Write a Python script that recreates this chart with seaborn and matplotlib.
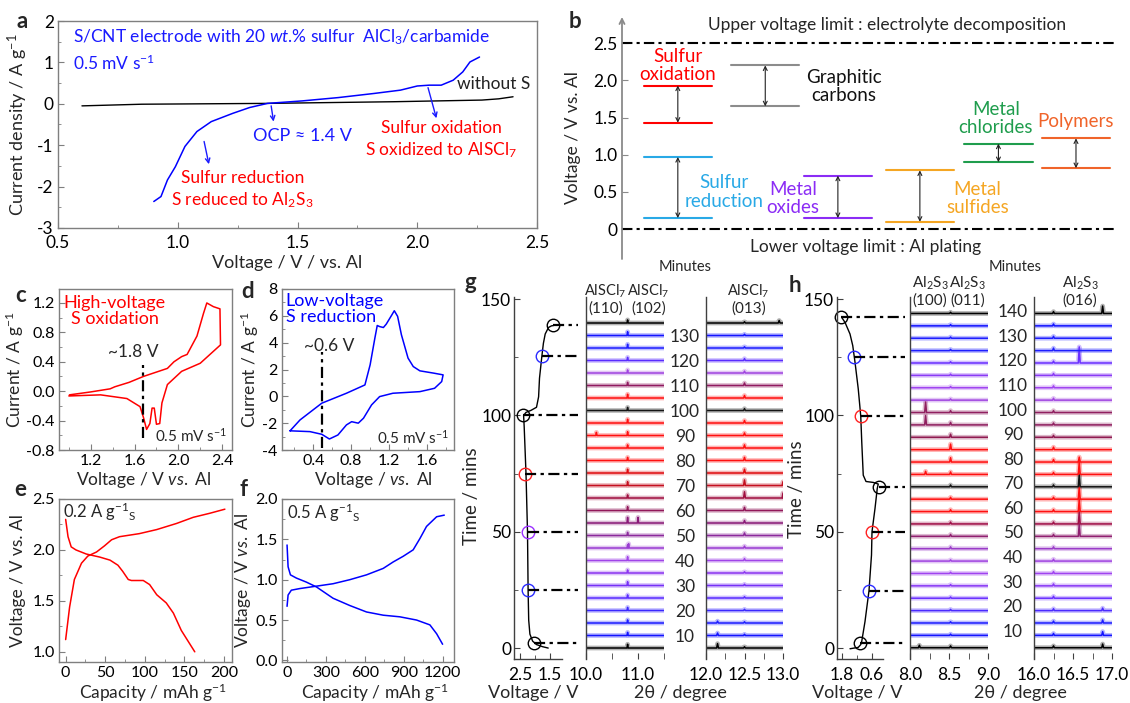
import numpy as np
import pandas as pd
import matplotlib
matplotlib.use("Agg")
import matplotlib.pyplot as plt
import seaborn as sns
from matplotlib.ticker import MultipleLocator, FixedLocator
from matplotlib.transforms import blended_transform_factory

sns.set_style("ticks")
plt.rcParams["font.family"] = ["Lato", "DejaVu Sans"]
plt.rcParams["mathtext.fontset"] = "custom"
plt.rcParams["mathtext.rm"] = "Lato"
plt.rcParams["mathtext.it"] = "Lato:italic"
plt.rcParams["mathtext.bf"] = "Lato:bold"
plt.rcParams["axes.unicode_minus"] = False

# ---------------- data ----------------
# panel a : linear sweep
a_blank_v = [0.60, 0.85, 1.375, 1.90, 2.27, 2.34, 2.40]
a_blank_i = [-0.05, -0.01, 0.01, 0.05, 0.09, 0.12, 0.17]
a_s_v = [0.90, 0.93, 0.957, 0.99, 1.03, 1.08, 1.14, 1.23, 1.30, 1.375, 1.52, 1.67,
         1.82, 1.93, 2.00, 2.05, 2.10, 2.15, 2.19, 2.22, 2.26]
a_s_i = [-2.36, -2.24, -1.84, -1.52, -1.03, -0.67, -0.43, -0.23, -0.09, 0.01, 0.07, 0.15,
         0.25, 0.33, 0.43, 0.45, 0.45, 0.57, 0.77, 1.01, 1.13]

# panel b : voltage windows
b_names = ["Sulfur\noxidation", "Graphitic\ncarbons", "Sulfur\nreduction", "Metal\noxides",
           "Metal\nsulfides", "Metal\nchlorides", "Polymers"]
b_upper = [1.93, 2.20, 0.97, 0.72, 0.79, 1.15, 1.22]
b_lower = [1.43, 1.65, 0.15, 0.15, 0.10, 0.90, 0.82]
b_text_v = [2.20, 1.92, 0.50, 0.41, 0.41, 1.49, 1.45]
b_limits = [2.5, 0.0]

# panel c : high-voltage CV
c_v = [1.005, 1.20, 1.377, 1.42, 1.55, 1.68, 1.90, 1.96, 2.03, 2.08, 2.17, 2.23, 2.26, 2.32,
       2.38, 2.385, 2.20, 2.03, 1.90, 1.85, 1.83, 1.80, 1.78, 1.76, 1.74, 1.71, 1.68, 1.65,
       1.53, 1.29, 1.00]
c_i = [-0.05, -0.01, 0.032, 0.06, 0.12, 0.20, 0.31, 0.40, 0.47, 0.50, 0.75, 1.06, 1.20, 1.15,
       1.12, 0.63, 0.38, 0.27, 0.09, -0.16, -0.44, -0.45, -0.23, -0.23, -0.44, -0.52, -0.35,
       -0.21, -0.10, -0.05, -0.065]
c_mark_v = 1.68

# panel d : low-voltage CV
d_v = [0.155, 0.26, 0.49, 0.75, 0.945, 1.00, 1.05, 1.075, 1.10, 1.14, 1.17, 1.23, 1.255, 1.29,
       1.33, 1.40, 1.455, 1.525, 1.67, 1.77, 1.755, 1.68, 1.525, 1.24, 1.10, 1.015, 0.93,
       0.875, 0.805, 0.75, 0.66, 0.57, 0.49, 0.365, 0.155]
d_i = [-2.57, -1.76, -0.51, 0.23, 0.85, 2.35, 4.34, 5.28, 5.20, 5.13, 5.38, 6.08, 6.38, 5.96,
       4.59, 2.85, 2.22, 1.90, 1.73, 1.60, 1.10, 0.60, 0.35, 0.23, -0.02, -0.64, -1.63,
       -2.00, -1.89, -2.13, -2.88, -3.18, -2.83, -2.63, -2.57]
d_mark_v = 0.49

# panel e : 0.2 A/g charge-discharge
e_chg_cap = [0, 5, 11, 20, 28, 39, 49, 58, 68, 93, 115, 140, 161, 182, 201]
e_chg_v = [1.12, 1.44, 1.71, 1.87, 1.94, 1.98, 2.04, 2.10, 2.13, 2.16, 2.20, 2.26, 2.32, 2.36, 2.40]
e_dis_cap = [0, 3, 7, 13, 26, 43, 56, 66, 72, 79, 83, 98, 106, 115, 127, 136, 146, 163]
e_dis_v = [2.30, 2.13, 2.03, 2.00, 1.96, 1.93, 1.90, 1.85, 1.79, 1.71, 1.70, 1.70, 1.66, 1.56,
           1.48, 1.38, 1.21, 1.00]

# panel f : 0.5 A/g charge-discharge
f_chg_cap = [0, 8, 33, 98, 227, 355, 484, 613, 742, 819, 896, 973, 1025, 1076, 1154, 1213]
f_chg_v = [0.67, 0.81, 0.87, 0.89, 0.92, 0.95, 1.00, 1.06, 1.14, 1.22, 1.29, 1.37, 1.51, 1.66,
           1.78, 1.80]
f_dis_cap = [0, 8, 26, 72, 149, 227, 355, 484, 613, 742, 870, 999, 1102, 1154, 1200]
f_dis_v = [1.43, 1.16, 1.06, 1.02, 0.97, 0.91, 0.77, 0.68, 0.60, 0.56, 0.54, 0.50, 0.44, 0.33, 0.20]

# panel g : operando voltage profile + XRD
g_volt = [1.56, 1.75, 1.95, 2.08, 2.17, 2.21, 2.23, 2.25, 2.30, 2.36, 2.38, 2.30, 2.13, 1.95,
          1.88, 1.85, 1.80, 1.77, 1.72, 1.66, 1.55, 1.45, 1.39]
g_time = [0.0, 0.6, 1.5, 3.0, 6.0, 12, 25, 50, 75, 95, 100, 101.3, 102.2, 103.5, 108, 116, 122,
          125.6, 131, 135, 137.8, 138.5, 138.6]
g_mark_v = [2.03, 2.24, 2.24, 2.33, 2.39, 1.77, 1.39]
g_mark_t = [2.0, 25, 50, 75, 100, 125.6, 138.8]
g_mark_c = ["black", "#2a2aff", "#9b30ff", "#ff2020", "black", "#2a2aff", "black"]
g_labels = [10, 20, 30, 40, 50, 60, 70, 80, 90, 100, 110, 120, 130]
g_colors = ["#000000", "#1414ff", "#1e1eff", "#3a28ff", "#5a2cff", "#7630f6", "#8c36f0",
            "#a044e8", "#9a3cd2", "#8c2a9c", "#8a1a78", "#92185a", "#a01040", "#c41020",
            "#e00c10", "#ff1010", "#ff1010", "#ff1010", "#ff1010", "#141414", "#ff1010",
            "#901a60", "#a044e0", "#5a2cff", "#1e1eff", "#1414ff", "#000000"]
g1_common_pos = 10.80
g1_common_h = [0.30, 0.25, 0.25, 0.25, 0.25, 0.30, 0.25, 0.30, 0.25, 0.25, 0.45, 0.30, 0.25,
               0.30, 0.30, 0.25, 0.25, 0.30, 0.30, 0.25, 0.30, 0.25, 0.25, 0.25, 0.30, 0.30, 0.25]
g1_extra = [(10, 11.00, 0.45), (17, 10.20, 0.25), (8, 10.82, 0.35)]
g2_common_pos = 12.50
g2_common_h = [0.10, 0.10, 0.10, 0.10, 0.10, 0.10, 0.10, 0.15, 0.15, 0.20, 0.20, 0.25, 0.50,
               0.45, 0.30, 0.25, 0.25, 0.20, 0.20, 0.15, 0.20, 0.20, 0.15, 0.15, 0.10, 0.10, 0.10]
g2_extra = [(0, 12.15, 0.35), (1, 12.15, 0.20), (2, 12.15, 0.15), (12, 13.00, 0.40),
            (13, 13.00, 0.30), (26, 12.95, 0.20)]

# panel h : operando voltage profile + XRD
h_volt = [1.48, 1.15, 1.05, 1.01, 0.88, 0.72, 0.62, 0.60, 0.48, 0.39, 0.35, 0.55, 0.84, 0.95,
          1.01, 1.05, 1.15, 1.28, 1.37, 1.48, 1.68, 1.81]
h_time = [-0.3, 0.3, 1.5, 2.9, 11.4, 24.7, 40, 50, 60, 68.6, 70.5, 71.2, 71.6, 74.3, 88.6, 99.7,
          111.4, 122.9, 130, 135, 140, 142.1]
h_mark_v = [1.08, 0.72, 0.61, 0.31, 1.05, 1.31, 1.83]
h_mark_t = [2.1, 24.7, 50, 69.3, 99.7, 125, 142.1]
h_mark_c = ["black", "#2a2aff", "#ff2020", "black", "#ff2020", "#2a2aff", "black"]
h_labels = [10, 20, 30, 40, 50, 60, 70, 80, 90, 100, 110, 120, 130, 140]
h_colors = ["#000000", "#1414ff", "#1e1eff", "#4a2aff", "#6a30ff", "#8a3af5", "#a044f0",
            "#a044e0", "#9a3cc8", "#902070", "#a01048", "#ff1010", "#ff1010", "#141414",
            "#ff1010", "#ff1010", "#ff1010", "#901a50", "#902060", "#902060", "#a044e0",
            "#a044f0", "#8a3af5", "#6a30ff", "#1e1eff", "#1e1eff", "#1414ff", "#000000"]
h1_common_pos = 8.52
h1_common_h = [0.15, 0.10, 0.10, 0.10, 0.10, 0.10, 0.10, 0.10, 0.15, 0.15, 0.15, 0.15, 0.15,
               0.15, 0.20, 0.35, 0.45, 0.25, 0.20, 0.15, 0.10, 0.10, 0.10, 0.10, 0.10, 0.10,
               0.10, 0.10]
h1_extra = [(18, 8.20, 0.75), (19, 8.20, 0.85), (14, 8.20, 0.25), (0, 8.12, 0.20)]
h2_common_pos = 16.25
h2_common_h = [0.15, 0.15, 0.15, 0.15, 0.15, 0.15, 0.15, 0.15, 0.15, 0.15, 0.15, 0.15, 0.15,
               0.15, 0.15, 0.20, 0.20, 0.15, 0.15, 0.15, 0.15, 0.15, 0.15, 0.15, 0.20, 0.15,
               0.15, 0.15]
h2_extra = [(9, 16.58, 1.0), (10, 16.58, 1.0), (11, 16.58, 1.0), (12, 16.58, 1.0),
            (13, 16.58, 1.0), (14, 16.58, 1.0), (15, 16.58, 0.4), (23, 16.58, 1.3),
            (27, 16.88, 0.6), (0, 16.88, 0.30), (1, 16.88, 0.30), (2, 16.88, 0.25),
            (3, 16.88, 0.20)]

# ---------------- figure ----------------
W, H = 1130, 703
fig = plt.figure(figsize=(W / 100, H / 100), dpi=100)


def px_rect(l, r, t, b):
    return [l / W, 1 - b / H, (r - l) / W, (b - t) / H]


def ftext(px, py, s, **kw):
    kw.setdefault("ha", "center")
    kw.setdefault("va", "center")
    return fig.text(px / W, 1 - py / H, s, **kw)


GRAY = "#7f7f7f"
DARK = "#404040"
BLUE = "#0000ff"
RED = "#ff0000"
DASHDOT = (0, (5, 2, 1.5, 2))


def frame(ax, color=GRAY, fs=12):
    for s in ax.spines.values():
        s.set_visible(True)
        s.set_color(color)
        s.set_linewidth(1.0)
    ax.tick_params(which="both", direction="in", colors=color, labelcolor="black",
                   labelsize=fs, top=False, right=False, pad=3)
    ax.tick_params(which="major", length=4)
    ax.tick_params(which="minor", length=2.5)


def curve(ax, x, y, color, lw=1.1, **kw):
    sns.lineplot(x=np.asarray(x, float), y=np.asarray(y, float), ax=ax, color=color, lw=lw,
                 sort=False, estimator=None, **kw)


# ---- panel a ----
ax_a = fig.add_axes(px_rect(58, 537, 21, 228))
curve(ax_a, a_blank_v, a_blank_i, "black", lw=1.0)
curve(ax_a, a_s_v, a_s_i, BLUE, lw=1.1)
ax_a.set_xlim(0.5, 2.5)
ax_a.set_ylim(-3, 2)
frame(ax_a, fs=12.5)
ax_a.tick_params(axis="x", pad=5)
ax_a.xaxis.set_major_locator(MultipleLocator(0.5))
ax_a.xaxis.set_minor_locator(MultipleLocator(0.25))
ax_a.yaxis.set_major_locator(MultipleLocator(1))
ax_a.yaxis.set_minor_locator(MultipleLocator(0.5))
ax_a.set_xticklabels([f"{v:.1f}" for v in ax_a.get_xticks()])
ax_a.set_yticklabels([f"{int(v)}" for v in ax_a.get_yticks()])
ax_a.set_xlabel("Voltage / V / vs. Al", fontsize=13)
ax_a.set_ylabel("Current density / A g$^{-1}$", fontsize=13)
ax_a.xaxis.set_label_coords(0.478, -0.13)
ax_a.yaxis.set_label_coords(-0.058, 0.5)
ax_a.text(0.563, 1.61, "S/CNT electrode with 20 $\\mathit{wt}$.% sulfur  AlCl$_3$/carbamide",
          color="#1a1aff", fontsize=12.5, va="center")
ax_a.text(0.563, 0.97, "0.5 mV s$^{-1}$", color="#1a1aff", fontsize=12.5, va="center")
ax_a.text(1.52, -0.77, "OCP ≈ 1.4 V", color="#1a1aff", fontsize=13, ha="center", va="center")
ax_a.text(1.27, -2.08, "Sulfur reduction\nS reduced to Al$_2$S$_3$", color=RED, fontsize=12.5,
          ha="center", va="center", linespacing=1.25)
ax_a.text(2.10, -0.87, "Sulfur oxidation\nS oxidized to AlSCl$_7$", color=RED, fontsize=12.5,
          ha="center", va="center", linespacing=1.25)
ax_a.text(2.32, 0.47, "without S", color="#222222", fontsize=12.5, ha="center", va="center")
arw = dict(arrowstyle="->", color="#1a1aff", lw=1.0, shrinkA=0, shrinkB=0, mutation_scale=8)
ax_a.annotate("", xy=(1.40, -0.43), xytext=(1.39, -0.05), arrowprops=arw)
ax_a.annotate("", xy=(1.13, -1.46), xytext=(1.11, -0.91), arrowprops=arw)
ax_a.annotate("", xy=(2.08, -0.35), xytext=(2.045, 0.39), arrowprops=arw)

# ---- panel b ----
ax_b = fig.add_axes(px_rect(622, 1116, 17, 259))
ax_b.set_xlim(0, 1)
ax_b.set_ylim(-0.40, 2.85)
b_colors = [RED, "#8c8c8c", "#29a9e6", "#8b2cf5", "#f5a623", "#1f9d4d", "#f0642a"]
b_centers = [0.113, 0.290, 0.113, 0.437, 0.603, 0.762, 0.919]
b_text_x = [0.113, 0.449, 0.206, 0.346, 0.720, 0.757, 0.919]
b_half = 0.069
for k in range(len(b_names)):
    xc = b_centers[k]
    curve(ax_b, [xc - b_half, xc + b_half], [b_upper[k], b_upper[k]], b_colors[k], lw=1.5)
    curve(ax_b, [xc - b_half, xc + b_half], [b_lower[k], b_lower[k]], b_colors[k], lw=1.5)
    ax_b.annotate("", xy=(xc, b_upper[k]), xytext=(xc, b_lower[k]),
                  arrowprops=dict(arrowstyle="<->", color="#222222", lw=0.8,
                                  shrinkA=0, shrinkB=0, mutation_scale=7))
    tcol = "#111111" if k == 1 else b_colors[k]
    ax_b.text(b_text_x[k], b_text_v[k], b_names[k], color=tcol, fontsize=13.5,
              ha="center", va="center", linespacing=1.1)
for lv in b_limits:
    ax_b.axhline(lv, color="black", lw=1.5, ls=DASHDOT)
ax_b.text(0.536, 2.745, "Upper voltage limit : electrolyte decomposition", fontsize=12.5,
          ha="center", va="center")
ax_b.text(0.493, -0.24, "Lower voltage limit : Al plating", fontsize=12.5,
          ha="center", va="center")
for s in ["top", "right", "bottom", "left"]:
    ax_b.spines[s].set_visible(False)
ax_b.annotate("", xy=(0, 1.0), xytext=(0, 0), xycoords="axes fraction",
              arrowprops=dict(arrowstyle="->", color="#8a8a8a", lw=1.3, shrinkA=0, shrinkB=0,
                              mutation_scale=9))
ax_b.set_xticks([])
ax_b.set_yticks([0, 0.5, 1.0, 1.5, 2.0, 2.5])
ax_b.set_yticklabels(["0", "0.5", "1.0", "1.5", "2.0", "2.5"])
ax_b.tick_params(axis="y", direction="in", length=4, colors="#8a8a8a", labelcolor="black",
                 labelsize=12.5, pad=3)
ax_b.set_ylabel("Voltage / V vs. Al", fontsize=12.5)
ax_b.yaxis.set_label_coords(-0.083, 0.5)

# ---- panel c ----
ax_c = fig.add_axes(px_rect(59, 232, 289, 450))
curve(ax_c, c_v, c_i, RED, lw=1.1)
ax_c.plot([c_mark_v, c_mark_v], [-0.64, 0.36], color="black", lw=1.6, ls=DASHDOT)
ax_c.set_xlim(0.91, 2.49)
ax_c.set_ylim(-0.8, 1.39)
frame(ax_c, fs=11.5)
ax_c.xaxis.set_major_locator(FixedLocator([1.2, 1.6, 2.0, 2.4]))
ax_c.xaxis.set_minor_locator(FixedLocator([1.0, 1.4, 1.8, 2.2]))
ax_c.yaxis.set_major_locator(FixedLocator([-0.8, -0.4, 0.0, 0.4, 0.8, 1.2]))
ax_c.yaxis.set_minor_locator(FixedLocator([-0.6, -0.2, 0.2, 0.6, 1.0]))
ax_c.set_xticklabels(["1.2", "1.6", "2.0", "2.4"])
ax_c.set_yticklabels(["-0.8", "-0.4", "0.0", "0.4", "0.8", "1.2"])
ax_c.set_xlabel("Voltage / V $\\mathit{vs.}$ Al", fontsize=12.5)
ax_c.set_ylabel("Current / A g$^{-1}$", fontsize=12.5)
ax_c.xaxis.set_label_coords(0.486, -0.125)
ax_c.yaxis.set_label_coords(-0.19, 0.5)
ax_c.text(1.42, 1.09, "High-voltage\nS oxidation", color=RED, fontsize=13, ha="center",
          va="center", linespacing=1.0)
ax_c.text(1.59, 0.53, "~1.8 V", fontsize=12.5, ha="center", va="center")
ax_c.text(2.116, -0.60, "0.5 mV s$^{-1}$", fontsize=11, ha="center", va="center")

# ---- panel d ----
ax_d = fig.add_axes(px_rect(282, 454, 289, 450))
curve(ax_d, d_v, d_i, BLUE, lw=1.1)
ax_d.plot([d_mark_v, d_mark_v], [-3.87, 3.34], color="black", lw=1.6, ls=DASHDOT)
ax_d.set_xlim(0.07, 1.885)
ax_d.set_ylim(-4, 8)
frame(ax_d, fs=11.5)
ax_d.xaxis.set_major_locator(FixedLocator([0.4, 0.8, 1.2, 1.6]))
ax_d.xaxis.set_minor_locator(FixedLocator([0.2, 0.6, 1.0, 1.4, 1.8]))
ax_d.yaxis.set_major_locator(MultipleLocator(2))
ax_d.yaxis.set_minor_locator(MultipleLocator(1))
ax_d.set_xticklabels(["0.4", "0.8", "1.2", "1.6"])
ax_d.set_yticklabels([f"{int(v)}" for v in ax_d.get_yticks()])
ax_d.set_xlabel("Voltage / $\\mathit{vs.}$ Al", fontsize=12.5)
ax_d.set_ylabel("Current / A g$^{-1}$", fontsize=12.5)
ax_d.xaxis.set_label_coords(0.53, -0.125)
ax_d.yaxis.set_label_coords(-0.122, 0.5)
ax_d.text(0.11, 6.54, "Low-voltage\nS reduction", color=BLUE, fontsize=13, ha="left",
          va="center", linespacing=1.0)
ax_d.text(0.57, 3.77, "~0.6 V", fontsize=12.5, ha="center", va="center")
ax_d.text(1.455, -3.05, "0.5 mV s$^{-1}$", fontsize=11, ha="center", va="center")

# ---- panel e ----
ax_e = fig.add_axes(px_rect(59, 232, 499, 662))
curve(ax_e, e_chg_cap, e_chg_v, RED, lw=1.1)
curve(ax_e, e_dis_cap, e_dis_v, RED, lw=1.1)
ax_e.set_xlim(-8.4, 210)
ax_e.set_ylim(0.9, 2.5)
frame(ax_e, fs=11.5)
ax_e.xaxis.set_major_locator(MultipleLocator(50))
ax_e.xaxis.set_minor_locator(MultipleLocator(25))
ax_e.yaxis.set_major_locator(FixedLocator([1.0, 1.5, 2.0, 2.5]))
ax_e.yaxis.set_minor_locator(FixedLocator([1.25, 1.75, 2.25]))
ax_e.set_xticklabels([f"{int(v)}" for v in ax_e.get_xticks()])
ax_e.set_yticklabels(["1.0", "1.5", "2.0", "2.5"])
ax_e.set_xlabel("Capacity / mAh g$^{-1}$", fontsize=12.5)
ax_e.set_ylabel("Voltage / V vs. Al", fontsize=12.5)
ax_e.xaxis.set_label_coords(0.54, -0.12)
ax_e.yaxis.set_label_coords(-0.19, 0.5)
ax_e.text(-3, 2.37, "0.2 A g$^{-1}$$_\\mathrm{S}$", fontsize=12, ha="left", va="center")

# ---- panel f ----
ax_f = fig.add_axes(px_rect(282, 454, 499, 662))
curve(ax_f, f_chg_cap, f_chg_v, BLUE, lw=1.1)
curve(ax_f, f_dis_cap, f_dis_v, BLUE, lw=1.1)
ax_f.set_xlim(-39, 1288)
ax_f.set_ylim(-0.02, 2.0)
frame(ax_f, fs=11.5)
ax_f.xaxis.set_major_locator(MultipleLocator(300))
ax_f.xaxis.set_minor_locator(MultipleLocator(150))
ax_f.yaxis.set_major_locator(MultipleLocator(0.5))
ax_f.yaxis.set_minor_locator(MultipleLocator(0.25))
ax_f.set_xticklabels([f"{int(v)}" for v in ax_f.get_xticks()])
ax_f.set_yticklabels([f"{v:.1f}" for v in ax_f.get_yticks()])
ax_f.set_xlabel("Capacity / mAh g$^{-1}$", fontsize=12.5)
ax_f.set_ylabel("Voltage / V $\\mathit{vs.}$ Al", fontsize=12.5)
ax_f.xaxis.set_label_coords(0.54, -0.12)
ax_f.yaxis.set_label_coords(-0.169, 0.5)
ax_f.text(0, 1.83, "0.5 A g$^{-1}$$_\\mathrm{S}$", fontsize=12, ha="left", va="center")


# ---- panels g / h helpers ----
def xrd_frame(n, xlo, xhi, cpos, ch, extra, w=0.012):
    rows = []
    for k in range(n):
        pk = {cpos: ch[k]}
        for kk, p, hh in extra:
            if kk == k:
                pk[p] = max(pk.get(p, 0), hh)
        xs, ys = [xlo], [0.0]
        for p in sorted(pk):
            xs += [p - w, p, p + w]
            ys += [0.0, pk[p], 0.0]
        xs.append(xhi)
        ys.append(0.0)
        for x, y in zip(xs, ys):
            rows.append({"x": x, "y": y + k, "trace": k})
    return pd.DataFrame(rows)


def xrd_axes(rect, xlim, ylim, df, colors, major, labels, minor):
    ax = fig.add_axes(rect)
    pal = {k: colors[k] for k in range(len(colors))}
    sns.lineplot(data=df, x="x", y="y", hue="trace", palette=pal, ax=ax, lw=3.4, alpha=0.3,
                 sort=False, estimator=None, legend=False)
    sns.lineplot(data=df, x="x", y="y", hue="trace", palette=pal, ax=ax, lw=1.1,
                 sort=False, estimator=None, legend=False)
    ax.set_xlim(*xlim)
    ax.set_ylim(*ylim)
    for s in ["top", "right", "bottom"]:
        ax.spines[s].set_visible(False)
    ax.spines["left"].set_color(DARK)
    ax.spines["left"].set_linewidth(1.0)
    ax.set_yticks([])
    ax.xaxis.set_major_locator(FixedLocator(major))
    ax.set_xticklabels(labels)
    ax.xaxis.set_minor_locator(FixedLocator(minor))
    ax.tick_params(axis="x", which="both", direction="in", colors=DARK, labelcolor="black",
                   labelsize=12.5, pad=6)
    ax.tick_params(axis="x", which="major", length=4)
    ax.tick_params(axis="x", which="minor", length=4)
    ax.set_xlabel("")
    ax.set_ylabel("")
    return ax


def volt_axes(rect, xlim, times, volts, mv, mt, mc, dash_end, xmaj, xlab, xmin):
    ax = fig.add_axes(rect)
    curve(ax, volts, times, "black", lw=1.0)
    for v, t, c in zip(mv, mt, mc):
        ax.plot([v], [t], marker="o", ms=9, mfc="none", mec=c, mew=1.0, clip_on=False)
        ax.plot([v, dash_end], [t, t], color="black", lw=1.6, ls=DASHDOT, clip_on=False)
    ax.set_xlim(*xlim)
    ax.set_ylim(-4.7, 150.9)
    for s in ["top", "right"]:
        ax.spines[s].set_visible(False)
    for s in ["left", "bottom"]:
        ax.spines[s].set_color(DARK)
        ax.spines[s].set_linewidth(1.0)
    ax.yaxis.set_major_locator(FixedLocator([0, 50, 100, 150]))
    ax.yaxis.set_minor_locator(FixedLocator([25, 75, 125]))
    ax.set_yticklabels(["0", "50", "100", "150"])
    ax.xaxis.set_major_locator(FixedLocator(xmaj))
    ax.set_xticklabels(xlab)
    ax.xaxis.set_minor_locator(FixedLocator(xmin))
    ax.tick_params(which="both", direction="in", colors=DARK, labelcolor="black", labelsize=12.5)
    ax.tick_params(which="major", length=4)
    ax.tick_params(which="minor", length=3)
    ax.tick_params(axis="x", pad=6)
    ax.tick_params(axis="y", pad=2)
    ax.set_xlabel("")
    ax.set_ylabel("Time / mins", fontsize=13.5)
    return ax


# ---- panel g ----
ax_gv = volt_axes(px_rect(514, 562, 297, 659), (2.7, 1.1), g_time, g_volt, g_mark_v, g_mark_t,
                  g_mark_c, 0.57, [2.5, 1.5], ["2.5", "1.5"], [2.0])
ax_gv.yaxis.set_label_coords(-0.71, 0.45)
g_ylim = (-0.88, 28.08)
df_g1 = xrd_frame(len(g_colors), 10.0, 11.5, g1_common_pos, g1_common_h, g1_extra)
df_g2 = xrd_frame(len(g_colors), 12.0, 13.0, g2_common_pos, g2_common_h, g2_extra)
ax_g1 = xrd_axes(px_rect(586, 664, 297, 659), (10.0, 11.5), g_ylim, df_g1, g_colors,
                 [10.0, 11.0], ["10.0", "11.0"], [10.5, 11.5])
ax_g2 = xrd_axes(px_rect(706, 783, 297, 659), (12.0, 13.0), g_ylim, df_g2, g_colors,
                 [12.0, 12.5, 13.0], ["12.0", "12.5", "13.0"], [12.25, 12.75])
tr_g = blended_transform_factory(fig.transFigure, ax_g1.transData)
for j, n in enumerate(g_labels):
    fig.text(685 / W, 0.88 + 2.0 * j, str(n), transform=tr_g, fontsize=12.5, ha="center",
             va="center")

# ---- panel h ----
ax_hv = volt_axes(px_rect(837, 883, 297, 659), (2.0, 0.16), h_time, h_volt, h_mark_v, h_mark_t,
                  h_mark_c, -0.72, [1.8, 0.6], ["1.8", "0.6"], [1.2])
ax_hv.yaxis.set_label_coords(-0.70, 0.47)
h_ylim = (-0.91, 28.33)
df_h1 = xrd_frame(len(h_colors), 8.0, 9.0, h1_common_pos, h1_common_h, h1_extra)
df_h2 = xrd_frame(len(h_colors), 16.0, 17.0, h2_common_pos, h2_common_h, h2_extra)
ax_h1 = xrd_axes(px_rect(910, 988, 297, 659), (8.0, 9.0), h_ylim, df_h1, h_colors,
                 [8.0, 8.5, 9.0], ["8.0", "8.5", "9.0"], [8.25, 8.75])
ax_h2 = xrd_axes(px_rect(1034, 1112, 297, 659), (16.0, 17.0), h_ylim, df_h2, h_colors,
                 [16.0, 16.5, 17.0], ["16.0", "16.5", "17.0"], [16.25, 16.75])
tr_h = blended_transform_factory(fig.transFigure, ax_h1.transData)
for j, n in enumerate(h_labels):
    fig.text(1012.7 / W, 1.29 + 1.985 * j, str(n), transform=tr_h, fontsize=12.5, ha="center",
             va="center")

# ---- figure-level texts ----
ftext(684.7, 267, "Minutes", fontsize=10.5)
ftext(1015.3, 267, "Minutes", fontsize=10.5)
for x0, s in [(605.5, "AlSCl$_7$"), (648.5, "AlSCl$_7$"), (748.3, "AlSCl$_7$")]:
    ftext(x0, 291.7, s, fontsize=10.5)
for x0, s in [(605.5, "(110)"), (648.5, "(102)"), (748.3, "(013)")]:
    ftext(x0, 309, s, fontsize=11)
for x0, s in [(930, "Al$_2$S$_3$"), (967.5, "Al$_2$S$_3$"), (1080, "Al$_2$S$_3$")]:
    ftext(x0, 283.3, s, fontsize=11)
for x0, s in [(930, "(100)"), (967.5, "(011)"), (1080, "(016)")]:
    ftext(x0, 301, s, fontsize=11)
ftext(533, 693, "Voltage / V", fontsize=13)
ftext(680, 693, "2θ / degree", fontsize=13)
ftext(856.7, 693, "Voltage / V", fontsize=13)
ftext(1020, 693, "2θ / degree", fontsize=13)

for x0, y0, s in [(22, 22, "a"), (574.5, 22, "b"), (21, 295, "c"), (248, 292, "d"),
                  (20, 490, "e"), (243, 490, "f"), (470, 283, "g"), (795, 285, "h")]:
    ftext(x0, y0, s, fontsize=16, fontweight="bold")

fig.savefig("out.png", dpi=100)
